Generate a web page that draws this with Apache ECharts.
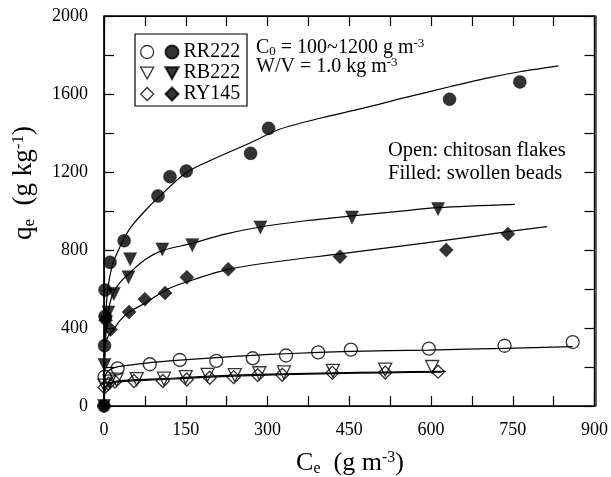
<!DOCTYPE html>
<html><head><meta charset="utf-8">
<script src="https://cdn.jsdelivr.net/npm/echarts@6/dist/echarts.min.js"></script>
<style>html,body{margin:0;padding:0;background:#fff}#c{width:611px;height:477px}</style>
</head><body><div id="c"></div>
<script>
// Measured data (Ce in g m^-3, qe in g kg^-1)
const rr222Beads = [[0,0],[1,310],[2,460],[2,595],[11,737],[37,848],[99,1077],[121,1176],[151,1205],[269,1296],[302,1424],[634,1573],[763,1662]];
const rb222Beads = [[0,0],[1,210],[4,430],[8,480],[18,575],[45,660],[48,753],[107,803],[162,825],[287,916],[455,967],[613,1010]];
const ry145Beads = [[0,0],[3,440],[12,392],[46,482],[75,548],[112,580],[152,660],[228,701],[433,766],[628,800],[741,882]];
const rr222Flakes = [[1,150],[25,193],[84,214],[139,236],[206,231],[273,245],[334,259],[393,275],[453,289],[596,294],[735,309],[860,328]];
const rb222Flakes = [[1,105],[10,125],[23,135],[60,138],[110,140],[150,148],[190,160],[240,158],[285,168],[330,172],[420,180],[516,187],[602,200]];
const ry145Flakes = [[1,95],[8,115],[20,125],[55,128],[108,128],[152,136],[194,145],[238,148],[282,158],[327,160],[419,170],[516,172],[613,176]];

// Fitted curves
const rr222BeadsFit = [[0,0],[1,250],[3,450],[7,600],[15,720],[25,790],[37,860],[50,920],[75,1000],[100,1070],[150,1195],[200,1265],[269,1350],[322,1419],[400,1478],[474,1526],[550,1580],[634,1637],[700,1680],[763,1714],[834,1744]];
const rb222BeadsFit = [[0,0],[1,200],[3,350],[7,470],[13,550],[20,595],[30,635],[48,685],[75,750],[107,797],[162,834],[220,880],[287,918],[370,950],[455,975],[541,998],[613,1017],[754,1034]];
const ry145BeadsFit = [[0,0],[0.5,200],[2,300],[6,350],[17,390],[30,440],[45,480],[75,527],[113,594],[152,637],[228,701],[330,745],[433,780],[584,834],[741,894],[813,920]];
const rr222FlakesFit = [[0,0],[1,120],[3,160],[10,185],[26,202],[84,222],[139,235],[206,248],[273,260],[334,268],[453,280],[596,287],[735,296],[860,304]];
const rb222FlakesFit = [[0,0],[1,80],[4,105],[10,118],[23,128],[60,135],[110,140],[151,147],[238,158],[327,165],[420,170],[516,174],[627,178]];
const ry145FlakesFit = [[0,0],[1,75],[4,100],[10,112],[23,122],[60,130],[110,136],[151,142],[238,153],[327,161],[420,166],[516,170],[620,174]];

const xTicks = [0,150,300,450,600,750,900];
const yTicks = [0,400,800,1200,1600,2000];

const FONT = 'Liberation Serif';

function fitLine(name, data){
  return {name:name, type:'line', data:data, showSymbol:false, smooth:0.3,
    lineStyle:{color:'#000', width:1.2}, silent:true};
}
const openStyle = {color:'rgba(255,255,255,0)', borderColor:'#000', borderWidth:1.3};
const fillStyle = {color:'#000', borderColor:'#000', borderWidth:0.5};
function pts(name, data, symbol, filled, size, rotate){
  return {name:name, type:'scatter', data:data, symbol:symbol, symbolSize:size, symbolRotate:rotate||0,
    itemStyle: filled ? fillStyle : openStyle};
}
function mkAxis(extra){
  return Object.assign({type:'value', min:0,
    axisLine:{show:true, onZero:false, lineStyle:{color:'#000', width:1.2}},
    axisTick:{show:true, inside:false, length:-10, lineStyle:{color:'#000', width:1.2}},
    splitLine:{show:false}}, extra);
}
const DOWN = 'path://M0,0 L10,0 L5,9 Z';
const sub = (fs, pad) => ({fontFamily:FONT, fontSize:fs, fill:'#000', padding:pad});

const option = {
  animation:false,
  backgroundColor:'#fff',
  grid:{left:104, right:15, top:16, bottom:71, show:true, borderColor:'#000', borderWidth:1.2, backgroundColor:'rgba(0,0,0,0)'},
  xAxis:[
    mkAxis({max:900, interval:75, position:'bottom',
      axisLabel:{show:true, margin:15, fontFamily:FONT, fontSize:18, color:'#000',
        formatter:v => xTicks.indexOf(v) >= 0 ? String(v) : ''}}),
    mkAxis({max:900, interval:75, position:'top', axisLabel:{show:false}})
  ],
  yAxis:[
    mkAxis({max:2000, interval:200, position:'left',
      axisLabel:{show:true, margin:16, fontFamily:FONT, fontSize:18, color:'#000',
        formatter:v => yTicks.indexOf(v) >= 0 ? String(v) : ''}}),
    mkAxis({max:2000, interval:200, position:'right', axisLabel:{show:false}})
  ],
  legend:[
    {data:[{name:'RR222 flakes', icon:'circle'},{name:'RB222 flakes', icon:DOWN},{name:'RY145 flakes', icon:'diamond'}],
      orient:'vertical', left:140, top:42, padding:0,
      itemWidth:13, itemHeight:13, itemGap:1, formatter:() => ' ', selectedMode:false,
      itemStyle:openStyle,
      textStyle:{fontFamily:FONT, fontSize:20, color:'#000'}},
    {data:[{name:'RR222', icon:'circle'},{name:'RB222', icon:DOWN},{name:'RY145', icon:'diamond'}],
      orient:'vertical', left:164.5, top:42, padding:0,
      itemWidth:13, itemHeight:13, itemGap:1, selectedMode:false,
      textStyle:{fontFamily:FONT, fontSize:20, color:'#000'}}
  ],
  graphic:[
    {type:'rect', shape:{x:104, y:16, width:492, height:390}, style:{fill:'none', stroke:'#000', lineWidth:1.2}},
    {type:'rect', shape:{x:135, y:34, width:112, height:72}, style:{fill:'none', stroke:'#000', lineWidth:1.2}},
    {type:'text', left:256, top:37, style:{
      text:'{m|C}{s|0}{m| = 100~1200 g m}{p|-3}',
      rich:{m:sub(20,0), s:sub(13,[9,0,0,0]), p:sub(13,[0,0,8,0])}}},
    {type:'text', left:256, top:56, style:{
      text:'{m|W/V = 1.0 kg m}{p|-3}',
      rich:{m:sub(20,0), p:sub(13,[0,0,8,0])}}},
    {type:'text', left:388, top:140, style:{text:'Open: chitosan flakes', fontFamily:FONT, fontSize:20.5, fill:'#000'}},
    {type:'text', left:388, top:163, style:{text:'Filled: swollen beads', fontFamily:FONT, fontSize:20.5, fill:'#000'}},
    {type:'text', x:350, y:463, style:{
      text:'{m|C}{s|e}{m|  (g m}{p|-3}{m|)}', align:'center', verticalAlign:'middle',
      rich:{m:sub(26,0), s:sub(16,[12,0,0,0]), p:sub(16,[0,0,11,0])}}},
    {type:'text', x:24, y:183, rotation:Math.PI/2, style:{
      text:'{m|q}{s|e}{m|  (g kg}{p|-1}{m|)}', align:'center', verticalAlign:'middle',
      rich:{m:sub(27,0), s:sub(17,[12,0,0,0]), p:sub(17,[0,0,11,0])}}}
  ],
  series:[
    fitLine('fit1', rr222BeadsFit), fitLine('fit2', rb222BeadsFit), fitLine('fit3', ry145BeadsFit),
    fitLine('fit4', rr222FlakesFit), fitLine('fit5', rb222FlakesFit), fitLine('fit6', ry145FlakesFit),
    pts('RR222 flakes', rr222Flakes, 'circle', false, 13),
    pts('RB222 flakes', rb222Flakes, 'triangle', false, 13, 180),
    pts('RY145 flakes', ry145Flakes, 'diamond', false, 13),
    pts('RR222', rr222Beads, 'circle', true, 13),
    pts('RB222', rb222Beads, 'triangle', true, 13, 180),
    pts('RY145', ry145Beads, 'diamond', true, 14),
    {name:'frame', type:'line', xAxisIndex:1, yAxisIndex:1, data:[], silent:true, showSymbol:false}
  ]
};
echarts.init(document.getElementById('c')).setOption(option);
</script></body></html>
